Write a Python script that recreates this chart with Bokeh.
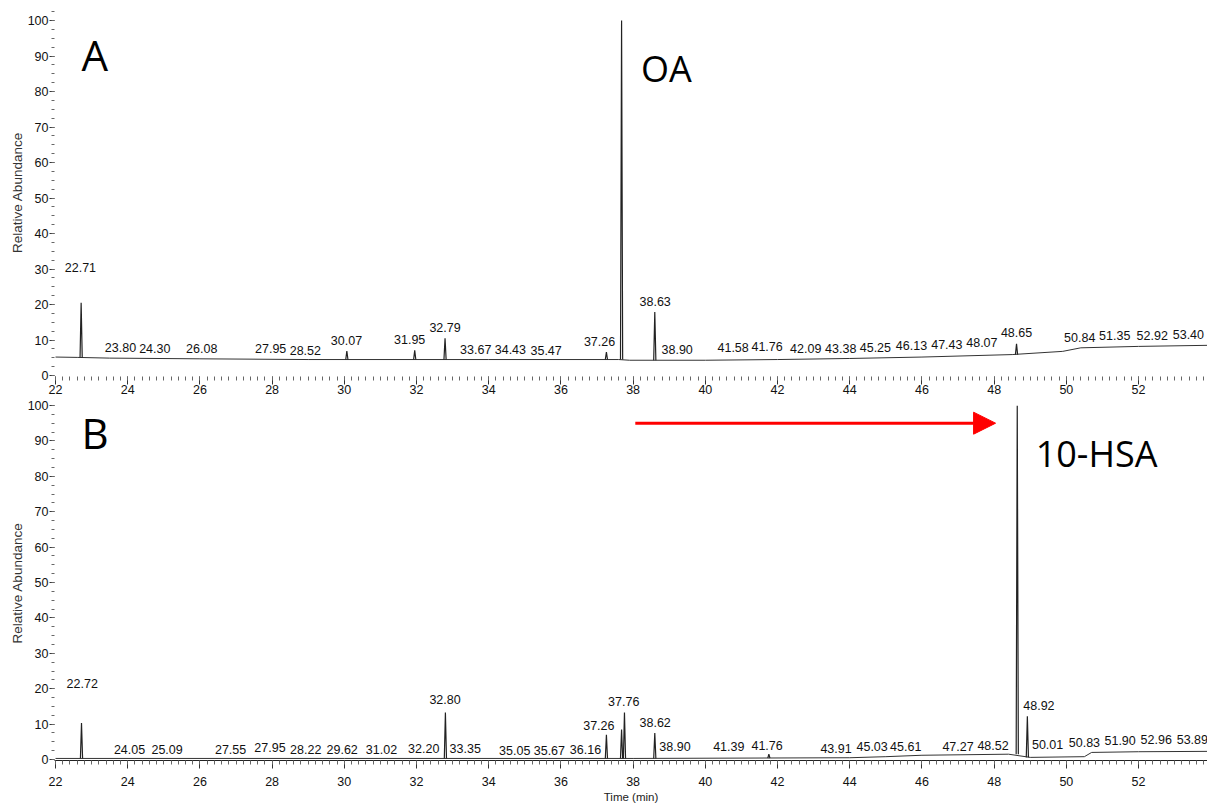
from bokeh.plotting import figure
from bokeh.layouts import column
from bokeh.models import Range1d, SingleIntervalTicker, Arrow, NormalHead, Label, ColumnDataSource
from bokeh.core.properties import value
from bokeh.embed import file_html
from bokeh.resources import INLINE

# ---------------- data ----------------
# Panel A (oleic acid)
A_base_t = [22.0, 22.6, 23.5, 26.0, 29.0, 34.0, 37.6, 37.9, 40.0, 42.0, 44.0, 46.0, 48.5, 49.9, 50.4, 52.0, 53.9]
A_base_y = [5.2, 5.1, 4.9, 4.7, 4.5, 4.5, 4.5, 4.3, 4.3, 4.5, 4.8, 5.2, 5.9, 6.8, 7.8, 8.2, 8.5]
A_peak_t = [22.71, 30.07, 31.95, 32.79, 37.26, 37.68, 38.60, 48.62]
A_peak_base = [5.1, 4.5, 4.5, 4.5, 4.5, 4.5, 4.3, 5.9]
A_peak_h = [20.5, 6.9, 7.1, 10.5, 6.6, 100.0, 17.9, 8.9]
A_lab_txt = ["22.71", "23.80", "24.30", "26.08", "27.95", "28.52", "30.07", "31.95", "32.79", "33.67",
             "34.43", "35.47", "37.26", "38.63", "38.90", "41.58", "41.76", "42.09", "43.38", "45.25",
             "46.13", "47.43", "48.07", "48.65", "50.84", "51.35", "52.92", "53.40"]
# where each label sits on the time axis (the software spreads them apart)
A_lab_t = [22.69, 23.80, 24.75, 26.05, 27.96, 28.92, 30.06, 31.81, 32.79, 33.64,
           34.60, 35.59, 37.07, 38.61, 39.22, 40.77, 41.71, 42.78, 43.75, 44.71,
           45.71, 46.69, 47.66, 48.62, 50.37, 51.34, 52.38, 53.38]
A_lab_y = [30.4, 7.8, 7.6, 7.6, 7.6, 7.1, 9.9, 10.1, 13.6, 7.3,
           7.3, 7.0, 9.7, 20.9, 7.3, 7.8, 8.1, 7.5, 7.6, 7.8,
           8.5, 8.6, 9.2, 12.2, 10.6, 11.3, 11.3, 11.5]

# Panel B (10-hydroxystearic acid)
B_base_t = [22.0, 30.0, 38.0, 44.0, 45.0, 46.0, 48.4, 49.0, 50.5, 50.7, 52.0, 53.9]
B_base_y = [0.3, 0.3, 0.3, 0.5, 0.8, 1.2, 1.5, 0.6, 0.8, 2.0, 2.2, 2.3]
B_peak_t = [22.72, 32.80, 37.26, 37.68, 37.76, 38.60, 41.76, 48.64, 48.92]
B_peak_base = [0.3, 0.3, 0.3, 0.3, 0.3, 0.3, 0.4, 1.5, 0.6]
B_peak_h = [10.3, 13.3, 7.0, 8.5, 13.3, 7.5, 1.5, 100.0, 12.2]
B_lab_txt = ["22.72", "24.05", "25.09", "27.55", "27.95", "28.22", "29.62", "31.02", "32.20", "32.80",
             "33.35", "35.05", "35.67", "36.16", "37.26", "37.76", "38.62", "38.90", "41.39", "41.76",
             "43.91", "45.03", "45.61", "47.27", "48.52", "48.92", "50.01", "50.83", "51.90", "52.96",
             "53.89"]
B_lab_t = [22.74, 24.05, 25.09, 26.85, 27.94, 28.93, 29.94, 31.03, 32.20, 32.79,
           33.35, 34.72, 35.68, 36.68, 37.05, 37.74, 38.61, 39.16, 40.65, 41.71,
           43.62, 44.62, 45.55, 47.00, 47.97, 49.24, 49.48, 50.50, 51.49, 52.49,
           53.49]
B_lab_y = [21.4, 2.8, 2.8, 2.8, 3.5, 2.8, 2.8, 2.8, 3.0, 16.9,
           3.0, 2.5, 2.6, 2.8, 9.6, 16.4, 10.5, 3.6, 3.6, 3.9,
           3.0, 3.6, 3.8, 3.8, 3.9, 15.2, 4.2, 4.9, 5.4, 5.6,
           5.6]

X_START, X_END = 21.972, 53.91
PEAK_HALF_WIDTH = 0.03


def make_panel(height, border_top, border_bottom, y_start, y_end, base_t, base_y, peak_t, peak_base,
               peak_h, lab_t, lab_y, lab_txt, show_xaxis_line, xlabel, xlab_standoff):
    p = figure(width=1207, height=height, output_backend="svg", toolbar_location=None,
               x_range=Range1d(X_START, X_END), y_range=Range1d(y_start, y_end),
               min_border_left=54, min_border_right=0, min_border_top=border_top,
               min_border_bottom=border_bottom)
    p.outline_line_color = None
    p.xgrid.visible = False
    p.ygrid.visible = False
    p.background_fill_color = "white"
    p.border_fill_color = "white"

    p.xaxis.ticker = SingleIntervalTicker(interval=2, num_minor_ticks=10)
    p.yaxis.ticker = SingleIntervalTicker(interval=10, num_minor_ticks=4)
    for ax in (p.xaxis[0], p.yaxis[0]):
        ax.major_label_text_font = "Liberation Sans"
        ax.major_label_text_font_size = "12.5px"
        ax.major_label_text_color = "#111111"
        ax.major_tick_line_color = "#333333"
        ax.minor_tick_line_color = "#666666"
        ax.major_tick_in = 0
        ax.minor_tick_in = 0
    p.xaxis.major_tick_out = 8
    p.xaxis.minor_tick_out = 4
    p.xaxis.major_label_standoff = xlab_standoff
    p.yaxis.major_tick_out = 5
    p.yaxis.minor_tick_out = 3
    p.yaxis.major_label_standoff = 1
    p.yaxis.axis_line_color = None
    p.xaxis.axis_line_color = "#222222" if show_xaxis_line else None
    p.yaxis.axis_label = "Relative Abundance"
    p.yaxis.axis_label_text_font = "Liberation Sans"
    p.yaxis.axis_label_text_font_size = "13.5px"
    p.yaxis.axis_label_text_font_style = "normal"
    p.yaxis.axis_label_text_color = "#333333"
    p.yaxis.axis_label_standoff = 0
    if xlabel:
        p.xaxis.axis_label = xlabel
        p.xaxis.axis_label_text_font = "Liberation Sans"
        p.xaxis.axis_label_text_font_size = "11.5px"
        p.xaxis.axis_label_text_font_style = "normal"
        p.xaxis.axis_label_text_color = "#222222"
        p.xaxis.axis_label_standoff = 2

    # baseline of the trace
    p.line(base_t, base_y, line_color="#333333", line_width=1)
    # peaks as narrow triangles
    xs = [[t - PEAK_HALF_WIDTH, t, t + PEAK_HALF_WIDTH] for t in peak_t]
    ys = [[b, h, b] for b, h in zip(peak_base, peak_h)]
    p.multi_line(xs, ys, line_color="#222222", line_width=1.2)

    # peak labels
    src = ColumnDataSource(dict(x=lab_t, y=lab_y, txt=lab_txt))
    p.text(x="x", y="y", text="txt", source=src, text_align="center", text_baseline="middle",
           text_font=value("Liberation Sans"), text_font_size="12.5px", text_color="#111111")
    return p


top = make_panel(398, 8, 22, -0.28, 103.4, A_base_t, A_base_y, A_peak_t, A_peak_base, A_peak_h,
                 A_lab_t, A_lab_y, A_lab_txt, False, None, 0)
bot = make_panel(407, 7, 45, -0.28, 100.0, B_base_t, B_base_y, B_peak_t, B_peak_base, B_peak_h,
                 B_lab_t, B_lab_y, B_lab_txt, True, "Time (min)", 8)

top.add_layout(Label(x=22.72, y=90.4, text="A", text_font="Open Sans", text_font_size="42px",
                     text_color="black", text_baseline="alphabetic"))
top.add_layout(Label(x=38.22, y=86.5, text="OA", text_font="Open Sans", text_font_size="36px",
                     text_color="black", text_baseline="alphabetic"))
bot.add_layout(Label(x=22.72, y=92.4, text="B", text_font="Open Sans", text_font_size="42px",
                     text_color="black", text_baseline="alphabetic"))
bot.add_layout(Label(x=49.15, y=86.3, text="10-HSA", text_font="Open Sans", text_font_size="36px",
                     text_color="black", text_baseline="alphabetic"))
bot.add_layout(Arrow(end=NormalHead(size=22, fill_color="red", line_color="red"),
                     x_start=38.06, y_start=95.0, x_end=48.04, y_end=95.0,
                     line_color="red", line_width=3))

layout = column(top, bot, spacing=0)
open("out.html", "w").write(file_html(layout, INLINE))
